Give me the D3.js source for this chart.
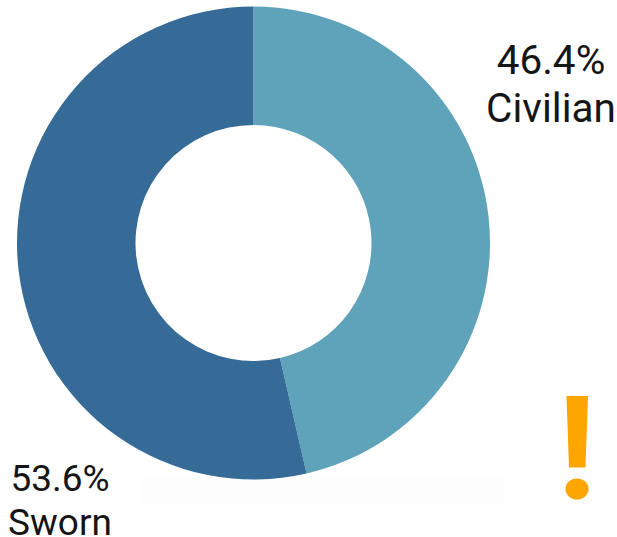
<!DOCTYPE html>
<html>
<head>
<meta charset="utf-8">
<script src="https://cdn.jsdelivr.net/npm/d3@7"></script>
<style>
body{margin:0;background:#fff;}
svg{display:block;}
text{font-family:Roboto,sans-serif;fill:#151515;}
</style>
</head>
<body>
<svg id="canvas" width="617" height="537"></svg>
<script>
let categories=["Civilian","Sworn"];
let values=[46.4,53.6];
let colors=["#5ea3ba","#366b97"];

let canvas=d3.select("#canvas");
let cx=253.5,cy=243,outer=236.5,inner=118;

// faint band left under the donut in the source image
canvas.append("rect").attr("x",140).attr("y",478).attr("width",365).attr("height",25).attr("fill","#fdfdfd");

let pie=d3.pie().sort(null)(values);
let arc=d3.arc().innerRadius(inner).outerRadius(outer);

canvas.append("g").attr("transform","translate("+cx+","+cy+")")
    .selectAll("path").data(pie).enter().append("path")
    .attr("d",arc)
    .attr("fill",(d,i)=>{return colors[i]});

let labelPos=[{x:551,y:[74,122],size:40.5},{x:60,y:[491,535],size:37}];
categories.forEach((name,i)=>{
    let t=canvas.append("text").attr("text-anchor","middle").style("font-size",labelPos[i].size+"px");
    t.append("tspan").attr("x",labelPos[i].x).attr("y",labelPos[i].y[0]).text(values[i].toFixed(1)+"%");
    t.append("tspan").attr("x",labelPos[i].x).attr("y",labelPos[i].y[1]).text(name);
});

// orange exclamation mark
let bang=canvas.append("g").attr("fill","#ffa500");
bang.append("path").attr("d","M566.5,396L588,396L585.5,467.5L569,467.5Z");
bang.append("ellipse").attr("cx",577).attr("cy",489).attr("rx",11.5).attr("ry",10.5);
</script>
</body>
</html>
